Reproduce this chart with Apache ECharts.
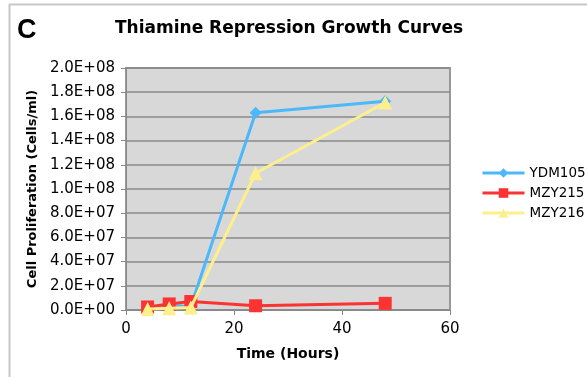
<!DOCTYPE html>
<html>
<head>
<meta charset="utf-8">
<script src="https://cdn.jsdelivr.net/npm/echarts@6/dist/echarts.min.js"></script>
<style>
  html, body { margin: 0; padding: 0; background: #fff; }
  #chart { width: 587px; height: 377px; }
</style>
</head>
<body>
<div id="chart"></div>
<script>
// time points (hours)
var hours = [4, 8, 12, 24, 48];
// cell counts per strain
var ydm105 = [1.0e6, 3.5e6, 3.0e6, 1.63e8, 1.725e8];
var mzy215 = [2.5e6, 5.0e6, 7.0e6, 3.5e6, 5.5e6];
var mzy216 = [0.8e6, 1.5e6, 2.0e6, 1.13e8, 1.715e8];

function pairs(vals) {
  return hours.map(function (h, i) { return [h, vals[i]]; });
}

function sci(v) {
  if (v === 0) return '0.0E+00';
  var e = Math.floor(Math.log10(v) + 1e-9);
  var m = v / Math.pow(10, e);
  return m.toFixed(1) + 'E+' + (e < 10 ? '0' + e : e);
}

var chart = echarts.init(document.getElementById('chart'));
var font = 'DejaVu Sans';

chart.setOption({
  animation: false,
  backgroundColor: '#fff',
  title: [{
    text: 'Thiamine Repression Growth Curves',
    left: 110, top: 15,
    textStyle: { fontFamily: font, fontSize: 17, fontWeight: 'bold', color: '#000' }
  }, {
    text: 'C',
    left: 12, top: 12,
    textStyle: { fontFamily: 'Liberation Sans', fontSize: 27, fontWeight: 'bold', color: '#000' }
  }],
  graphic: [
    { type: 'line', shape: { x1: 9.5, y1: 4, x2: 9.5, y2: 377 }, style: { stroke: '#c8c8c8', lineWidth: 2 } },
    { type: 'line', shape: { x1: 9, y1: 4.5, x2: 587, y2: 4.5 }, style: { stroke: '#c8c8c8', lineWidth: 2 } }
  ],
  legend: {
    orient: 'vertical',
    left: 476, top: 161,
    itemWidth: 42, itemHeight: 12, itemGap: 6,
    lineStyle: { width: 3 },
    textStyle: { fontFamily: font, fontSize: 13.5, color: '#000' },
    data: ['YDM105', 'MZY215', 'MZY216']
  },
  grid: { left: 126, right: 137, top: 68, bottom: 67, show: true, backgroundColor: '#d8d8d8', borderColor: '#999', borderWidth: 2 },
  xAxis: {
    type: 'value', min: 0, max: 60, interval: 20,
    name: 'Time (Hours)', nameLocation: 'middle', nameGap: 37,
    nameTextStyle: { fontFamily: font, fontSize: 14, fontWeight: 'bold', color: '#000' },
    axisLine: { lineStyle: { color: '#888', width: 1 } },
    axisTick: { show: true, length: 5, lineStyle: { color: '#888' } },
    axisLabel: { fontFamily: font, fontSize: 15, color: '#000', margin: 12 },
    splitLine: { show: false }
  },
  yAxis: {
    type: 'value', min: 0, max: 2.0e8, interval: 2.0e7,
    name: 'Cell Proliferation (Cells/ml)', nameLocation: 'middle', nameGap: 86,
    nameTextStyle: { fontFamily: font, fontSize: 13, fontWeight: 'bold', color: '#000' },
    axisLine: { show: true, lineStyle: { color: '#888', width: 1 } },
    axisTick: { show: true, length: 5, lineStyle: { color: '#888' } },
    axisLabel: { fontFamily: font, fontSize: 15, color: '#000', margin: 11, formatter: sci },
    splitLine: { show: true, lineStyle: { color: '#8a8a8a', width: 1.5 } }
  },
  series: [{
    name: 'YDM105', type: 'line', data: pairs(ydm105),
    symbol: 'diamond', symbolSize: 12,
    itemStyle: { color: '#4cb8fa' }, lineStyle: { width: 3, color: '#4cb8fa' }
  }, {
    name: 'MZY215', type: 'line', data: pairs(mzy215),
    symbol: 'rect', symbolSize: 13, z: 3,
    itemStyle: { color: '#fb3333' }, lineStyle: { width: 3, color: '#fb3333' }
  }, {
    name: 'MZY216', type: 'line', data: pairs(mzy216),
    symbol: 'triangle', symbolSize: 14, z: 4,
    itemStyle: { color: '#fdf08c' }, lineStyle: { width: 3, color: '#fdf08c' }
  }]
});
</script>
</body>
</html>
